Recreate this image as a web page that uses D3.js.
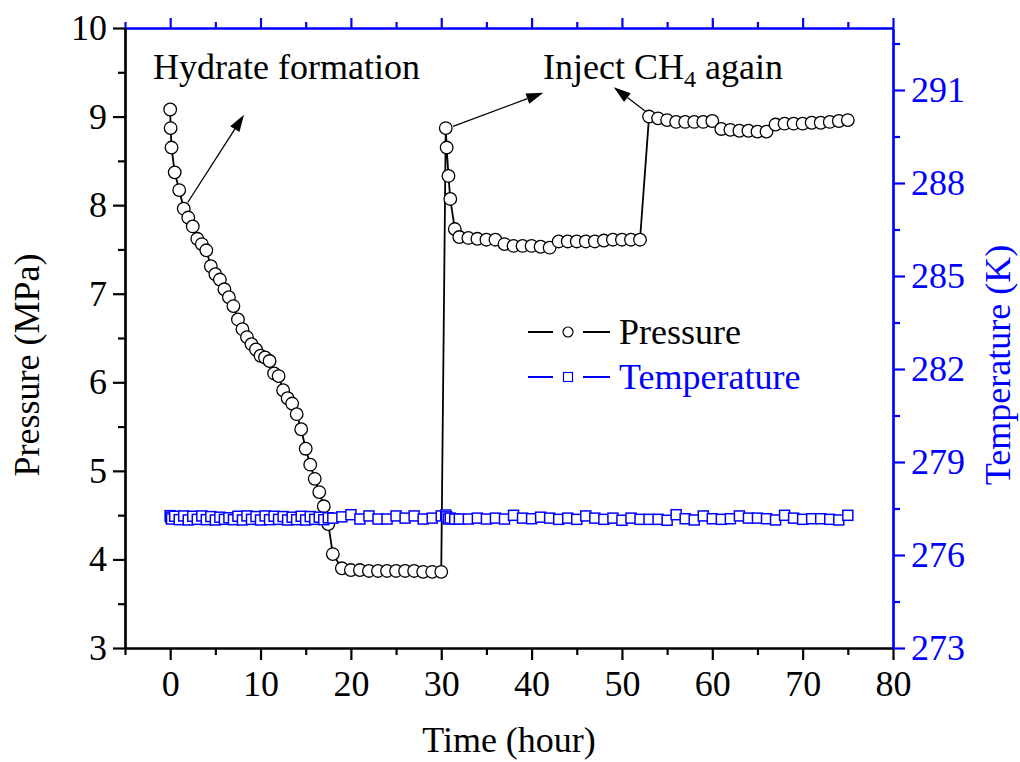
<!DOCTYPE html>
<html>
<head>
<meta charset="utf-8">
<script src="https://cdn.jsdelivr.net/npm/d3@7"></script>
<style>
  html, body { margin: 0; padding: 0; background: #fff; }
  svg text { font-family: "Liberation Serif", "Times New Roman", serif; }
</style>
</head>
<body>
<svg id="chart" width="1020" height="762"></svg>
<script>
// Sampling times (hours)
const timeHours = [
  0, 0.05, 0.15, 0.5, 1, 1.5, 2, 2.5, 3, 3.5, 4, 4.5, 5, 5.5, 6, 6.5, 7, 7.5, 8, 8.5,
  9, 9.5, 10, 10.5, 11, 11.5, 12, 12.5, 13, 13.5, 14, 14.5, 15, 15.5, 16, 16.5, 17, 17.5, 18,
  19, 20, 21, 22, 23, 24, 25, 26, 27, 28, 29, 30,
  30.5, 30.6, 30.8, 31, 31.5,
  32, 33, 34, 35, 36, 37, 38, 39, 40, 41, 42, 43, 44, 45, 46, 47, 48, 49, 50, 51, 52,
  53, 54, 55, 56, 57, 58, 59, 60, 61, 62, 63, 64, 65, 66, 67, 68, 69, 70, 71, 72, 73, 74, 75
];

// Pressure (MPa)
const pressureMPa = [
  9.08, 8.87, 8.65, 8.37, 8.17, 7.96, 7.86, 7.76, 7.62, 7.56, 7.49, 7.31, 7.22, 7.16, 7.05, 6.96, 6.86, 6.71, 6.60, 6.51,
  6.43, 6.37, 6.30, 6.28, 6.24, 6.10, 6.07, 5.91, 5.82, 5.76, 5.64, 5.47, 5.25, 5.07, 4.91, 4.76, 4.60, 4.40, 4.06,
  3.90, 3.88, 3.88, 3.87, 3.87, 3.87, 3.87, 3.87, 3.87, 3.86, 3.86, 3.86,
  8.87, 8.65, 8.33, 8.07, 7.73,
  7.64, 7.63, 7.62, 7.61, 7.61, 7.56, 7.54, 7.54, 7.54, 7.53, 7.52, 7.59, 7.59, 7.59, 7.59, 7.59, 7.60, 7.61, 7.61, 7.61, 7.61,
  9.00, 8.98, 8.96, 8.94, 8.94, 8.94, 8.94, 8.95, 8.86, 8.85, 8.84, 8.84, 8.83, 8.83, 8.91, 8.92, 8.92, 8.92, 8.93, 8.93, 8.94, 8.95, 8.96
];

// Temperature (K)
const temperatureK = [
  277.27, 277.22, 277.16, 277.25, 277.14, 277.26, 277.13, 277.25, 277.15, 277.26,
  277.14, 277.24, 277.13, 277.22, 277.15, 277.20, 277.14, 277.25, 277.13, 277.26,
  277.15, 277.24, 277.13, 277.26, 277.14, 277.25, 277.15, 277.24, 277.13, 277.22,
  277.14, 277.25, 277.13, 277.24, 277.15, 277.22, 277.14, 277.20, 277.19,
  277.23, 277.30, 277.16, 277.26, 277.16, 277.16, 277.26, 277.19, 277.26, 277.16, 277.19, 277.26,
  277.29, 277.23, 277.16, 277.19, 277.16,
  277.16, 277.16, 277.19, 277.16, 277.19, 277.16, 277.28, 277.19, 277.17, 277.22, 277.19,
  277.15, 277.19, 277.15, 277.26, 277.19, 277.15, 277.19, 277.12, 277.19, 277.15,
  277.15, 277.15, 277.12, 277.30, 277.17, 277.13, 277.26, 277.17, 277.15, 277.17, 277.26,
  277.19, 277.19, 277.17, 277.13, 277.28, 277.19, 277.15, 277.17, 277.17, 277.15, 277.13, 277.28
];

// Axis tick values
const xMajorTicks = [0, 10, 20, 30, 40, 50, 60, 70, 80];
const xMinorTicks = [-5, 5, 15, 25, 35, 45, 55, 65, 75];
const pMajorTicks = [3, 4, 5, 6, 7, 8, 9, 10];
const pMinorTicks = [3.5, 4.5, 5.5, 6.5, 7.5, 8.5, 9.5];
const tMajorTicks = [273, 276, 279, 282, 285, 288, 291];
const tMinorTicks = [274.5, 277.5, 280.5, 283.5, 286.5, 289.5, 292.5];

// Annotation arrows in data units [time, pressure]
const annotationArrows = [
  { from: [1.94, 8.03], to: [8.17, 9.02] },
  { from: [31.3, 8.89], to: [41.3, 9.27] },
  { from: [52.6, 9.06], to: [49.1, 9.33] }
];

const BLUE = "#0000ff";
const svg = d3.select("#chart");

const x = d3.scaleLinear().domain([-5, 80]).range([125, 893]);
const yP = d3.scaleLinear().domain([3, 10]).range([648, 28]);
const yT = d3.scaleLinear().domain([273, 293]).range([648, 28]);

const FS = 36;

function styleAxis(g, color) {
  g.selectAll("path.domain").attr("stroke", color).attr("stroke-width", 2.2);
  g.selectAll(".tick line").attr("stroke", color).attr("stroke-width", 2.2);
  g.selectAll(".tick text")
    .attr("fill", color)
    .style("font-family", '"Liberation Serif", "Times New Roman", serif')
    .style("font-size", FS + "px");
}

// Bottom axis
const gB = svg.append("g").attr("transform", "translate(0,648)");
gB.call(d3.axisBottom(x).tickValues(xMajorTicks).tickSize(12).tickSizeOuter(0).tickPadding(10).tickFormat(d3.format("d")));
styleAxis(gB, "#000");
const gBm = svg.append("g").attr("transform", "translate(0,648)");
gBm.call(d3.axisBottom(x).tickValues(xMinorTicks).tickSize(7).tickSizeOuter(0).tickFormat(""));
styleAxis(gBm, "#000");

// Top axis
const gTop = svg.append("g").attr("transform", "translate(0,28)");
gTop.call(d3.axisTop(x).tickValues(xMajorTicks).tickSize(10).tickSizeOuter(0).tickFormat(""));
styleAxis(gTop, BLUE);
const gTopm = svg.append("g").attr("transform", "translate(0,28)");
gTopm.call(d3.axisTop(x).tickValues(xMinorTicks).tickSize(6).tickSizeOuter(0).tickFormat(""));
styleAxis(gTopm, BLUE);

// Left axis
const gL = svg.append("g").attr("transform", "translate(125,0)");
gL.call(d3.axisLeft(yP).tickValues(pMajorTicks).tickSize(12).tickSizeOuter(0).tickPadding(6).tickFormat(d3.format("d")));
styleAxis(gL, "#000");
const gLm = svg.append("g").attr("transform", "translate(125,0)");
gLm.call(d3.axisLeft(yP).tickValues(pMinorTicks).tickSize(7).tickSizeOuter(0).tickFormat(""));
styleAxis(gLm, "#000");

// Right axis
const gR = svg.append("g").attr("transform", "translate(893,0)");
gR.call(d3.axisRight(yT).tickValues(tMajorTicks).tickSize(12).tickSizeOuter(0).tickPadding(6).tickFormat(d3.format("d")));
styleAxis(gR, BLUE);
const gRm = svg.append("g").attr("transform", "translate(893,0)");
gRm.call(d3.axisRight(yT).tickValues(tMinorTicks).tickSize(7).tickSizeOuter(0).tickFormat(""));
styleAxis(gRm, BLUE);

// Axis titles
svg.append("text").attr("x", 509).attr("y", 752).attr("text-anchor", "middle")
  .style("font-size", FS + "px").attr("fill", "#000").text("Time (hour)");
svg.append("text").attr("transform", "translate(39,365) rotate(-90)").attr("text-anchor", "middle")
  .style("font-size", FS + "px").attr("fill", "#000").text("Pressure (MPa)");
svg.append("text").attr("transform", "translate(1010,365) rotate(-90)").attr("text-anchor", "middle")
  .style("font-size", FS + "px").attr("fill", BLUE).text("Temperature (K)");

const pData = timeHours.map((t, i) => ({ t, v: pressureMPa[i] }));
const tData = timeHours.map((t, i) => ({ t, v: temperatureK[i] }));

// Pressure series
svg.append("path").datum(pData)
  .attr("fill", "none").attr("stroke", "#000").attr("stroke-width", 1.8)
  .attr("d", d3.line().x(d => x(d.t)).y(d => yP(d.v)));
svg.append("g").selectAll("circle").data(pData).join("circle")
  .attr("cx", d => x(d.t)).attr("cy", d => yP(d.v)).attr("r", 6.3)
  .attr("fill", "#fff").attr("stroke", "#000").attr("stroke-width", 1.3);

// Temperature series
svg.append("path").datum(tData)
  .attr("fill", "none").attr("stroke", BLUE).attr("stroke-width", 1.8)
  .attr("d", d3.line().x(d => x(d.t)).y(d => yT(d.v)));
svg.append("g").selectAll("rect").data(tData).join("rect")
  .attr("x", d => x(d.t) - 5).attr("y", d => yT(d.v) - 5).attr("width", 10).attr("height", 10)
  .attr("fill", "#fff").attr("stroke", BLUE).attr("stroke-width", 1.5);

// Annotation arrows
const arrows = svg.append("g");
annotationArrows.forEach(a => {
  const x0 = x(a.from[0]), y0 = yP(a.from[1]);
  const x1 = x(a.to[0]), y1 = yP(a.to[1]);
  const ang = Math.atan2(y1 - y0, x1 - x0);
  const L = 17, W = 5.5;
  const bx = x1 - L * Math.cos(ang), by = y1 - L * Math.sin(ang);
  arrows.append("line").attr("x1", x0).attr("y1", y0).attr("x2", bx).attr("y2", by)
    .attr("stroke", "#000").attr("stroke-width", 1.3);
  const px = -Math.sin(ang) * W, py = Math.cos(ang) * W;
  arrows.append("path")
    .attr("d", `M${x1},${y1}L${bx + px},${by + py}L${bx - px},${by - py}Z`)
    .attr("fill", "#000");
});

// Annotation labels
svg.append("text").attr("x", 153).attr("y", 79).style("font-size", FS + "px").attr("fill", "#000")
  .text("Hydrate formation");
const inj = svg.append("text").attr("x", 543).attr("y", 79).style("font-size", FS + "px").attr("fill", "#000");
inj.append("tspan").text("Inject CH");
inj.append("tspan").attr("dy", 8).style("font-size", "24px").text("4");
inj.append("tspan").attr("dy", -8).text(" again");

// Legend
const legend = svg.append("g");
const legendItems = [
  { label: "Pressure", color: "#000", shape: "circle", y: 332 },
  { label: "Temperature", color: BLUE, shape: "square", y: 377 }
];
legendItems.forEach(it => {
  legend.append("line").attr("x1", 528).attr("x2", 553).attr("y1", it.y).attr("y2", it.y)
    .attr("stroke", it.color).attr("stroke-width", 2);
  legend.append("line").attr("x1", 583).attr("x2", 610).attr("y1", it.y).attr("y2", it.y)
    .attr("stroke", it.color).attr("stroke-width", 2);
  if (it.shape === "circle") {
    legend.append("circle").attr("cx", 568).attr("cy", it.y).attr("r", 5)
      .attr("fill", "#fff").attr("stroke", it.color).attr("stroke-width", 1.2);
  } else {
    legend.append("rect").attr("x", 563.5).attr("y", it.y - 4.5).attr("width", 9).attr("height", 9)
      .attr("fill", "#fff").attr("stroke", it.color).attr("stroke-width", 1.2);
  }
  legend.append("text").attr("x", 619).attr("y", it.y + 12).style("font-size", FS + "px")
    .attr("fill", it.color).text(it.label);
});
</script>
</body>
</html>
